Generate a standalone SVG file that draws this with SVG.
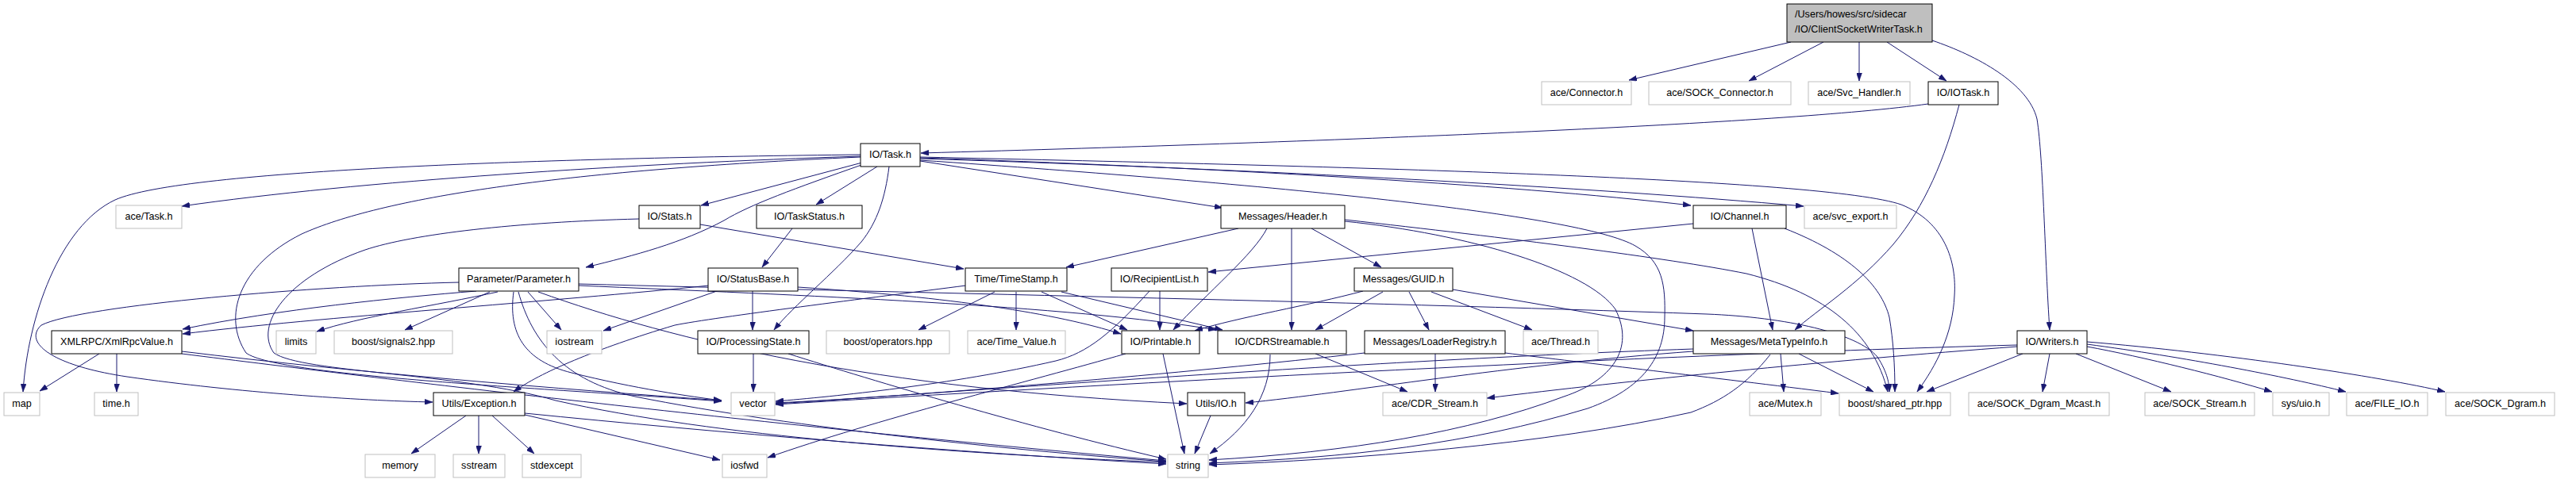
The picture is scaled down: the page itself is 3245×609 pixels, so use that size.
<svg xmlns="http://www.w3.org/2000/svg" width="3245" height="609" viewBox="0 0 3245 609">
<style>
.n rect{fill:#fff;stroke:#000;stroke-width:1}
.x rect{fill:#fff;stroke:#bfbfbf;stroke-width:1}
.r rect{fill:#bfbfbf;stroke:#000;stroke-width:1}
text{font-family:"Liberation Sans",Arial,Helvetica,sans-serif;font-size:12.6px;fill:#000;text-anchor:middle}
.r text{text-anchor:start}
#edges path{fill:none;stroke:#191970;stroke-width:1;marker-end:url(#a)}
</style>
<defs>
<marker id="a" markerUnits="userSpaceOnUse" markerWidth="10" markerHeight="7" refX="10" refY="3.5" orient="auto">
<path d="M0,0 L10,3.5 L0,7 z" fill="#191970" stroke="#191970" stroke-width="0.5"/>
</marker>
</defs>
<rect x="0" y="0" width="3245" height="609" fill="#fff"/>
<g id="edges">
<path d="M2256,53 L2052,101"/>
<path d="M2297,53 L2203,102"/>
<path d="M2342,53 L2342,102"/>
<path d="M2377,53 L2452,102"/>
<path d="M2434,51 C2490,70 2555,105 2566,150 C2574,200 2576,330 2582,416"/>
<path d="M2429,131 C2250,156 1700,178 1160,193"/>
<path d="M2468,132 C2450,200 2425,260 2385,308 C2340,360 2290,390 2261,416"/>
<path d="M1084,197 C800,206 450,228 229,260"/>
<path d="M1084,195 C700,199 230,214 145,252 C75,285 35,400 29,494"/>
<path d="M1086,205 L883,259"/>
<path d="M1105,210 L1028,258"/>
<path d="M1088,207 C1000,238 945,258 912,278 C860,306 800,322 738,337"/>
<path d="M1120,210 C1115,250 1105,280 1085,305 C1050,345 1000,385 975,416"/>
<path d="M1159,203 L1540,262"/>
<path d="M1159,199 C1500,210 1900,232 2130,259"/>
<path d="M1159,200 C1600,214 2000,236 2272,260"/>
<path d="M1159,198 C1700,210 2300,225 2395,258 C2450,280 2465,330 2462,373 C2460,420 2440,460 2415,494"/>
<path d="M1159,202 C1600,232 1990,270 2060,310 C2095,330 2098,360 2097,400 C2097,450 2070,490 2000,515 C1850,560 1700,577 1523,584"/>
<path d="M1084,198 C700,215 480,250 380,295 C300,335 280,400 310,445 C350,475 700,490 909,506"/>
<path d="M882,283 L1214,339"/>
<path d="M805,276 C650,280 520,295 460,315 C360,350 320,410 345,445 C380,470 580,470 700,505 C900,550 1200,572 1469,583"/>
<path d="M998,288 L960,337"/>
<path d="M1560,288 L1343,337"/>
<path d="M1652,288 L1740,337"/>
<path d="M1596,288 C1580,320 1520,370 1478,416"/>
<path d="M1627,288 L1627,416"/>
<path d="M1694,279 C1850,295 2000,340 2035,390 C2060,440 2030,480 1970,500 C1850,545 1700,570 1523,580"/>
<path d="M1694,277 C1900,300 2100,325 2200,345 C2300,370 2360,420 2378,494"/>
<path d="M2133,282 L1522,343"/>
<path d="M2207,288 L2233,416"/>
<path d="M2248,288 C2330,320 2370,360 2380,400 C2385,430 2387,460 2387,494"/>
<path d="M893,360 C700,380 400,400 230,421"/>
<path d="M903,367 L760,417"/>
<path d="M948,367 L948,416"/>
<path d="M1005,362 C1200,375 1330,395 1412,421"/>
<path d="M600,367 C500,375 350,390 230,415"/>
<path d="M627,368 C550,385 450,400 399,418"/>
<path d="M617,368 L510,416"/>
<path d="M665,368 L707,416"/>
<path d="M647,368 C640,420 660,455 720,470 C800,490 870,500 909,505"/>
<path d="M653,368 C670,430 710,480 800,500 C1000,540 1300,570 1469,582"/>
<path d="M678,368 C850,430 1100,490 1495,509"/>
<path d="M578,356 C400,360 100,385 52,410 C30,430 60,460 160,475 C300,495 450,505 545,507"/>
<path d="M729,360 C1000,372 1350,385 1532,416"/>
<path d="M729,358 C1100,368 1700,380 2150,396 C2250,400 2340,420 2365,450 C2378,470 2380,485 2380,494"/>
<path d="M1717,367 C1650,385 1560,400 1505,417"/>
<path d="M1742,368 L1657,416"/>
<path d="M1775,368 L1800,416"/>
<path d="M1803,368 L1930,416"/>
<path d="M1830,365 L2133,417"/>
<path d="M1253,368 L1157,416"/>
<path d="M1280,368 L1280,416"/>
<path d="M1312,368 L1420,416"/>
<path d="M1337,368 L1540,416"/>
<path d="M1217,360 C1100,375 900,400 850,410 C750,440 680,470 647,494"/>
<path d="M1461,367 L1461,416"/>
<path d="M1448,367 C1400,420 1370,445 1330,455 C1200,485 1050,500 977,506"/>
<path d="M949,446 L949,494"/>
<path d="M993,446 C1100,480 1300,540 1469,579"/>
<path d="M1465,446 L1492,572"/>
<path d="M1418,446 C1300,480 1100,530 967,577"/>
<path d="M1657,446 L1773,494"/>
<path d="M1600,447 C1600,500 1570,540 1524,572"/>
<path d="M1808,446 L1808,494"/>
<path d="M1896,445 C2000,458 2150,475 2316,496"/>
<path d="M1719,445 C1500,470 1150,500 977,508"/>
<path d="M2243,446 L2247,494"/>
<path d="M2266,446 L2360,494"/>
<path d="M2230,447 C2200,485 2170,505 2130,520 C1950,560 1700,580 1523,586"/>
<path d="M2133,440 C1700,455 1200,495 977,509"/>
<path d="M2133,443 C1900,460 1700,495 1569,508"/>
<path d="M2582,446 L2573,494"/>
<path d="M2615,446 L2735,494"/>
<path d="M2629,437 C2700,450 2800,475 2862,494"/>
<path d="M2629,434 C2750,450 2880,475 2955,494"/>
<path d="M2629,431 C2800,445 3000,475 3080,494"/>
<path d="M2548,446 L2427,494"/>
<path d="M2541,437 C2300,455 2050,480 1873,502"/>
<path d="M2541,435 C2000,450 1300,490 977,510"/>
<path d="M125,446 L50,493"/>
<path d="M147,446 L147,494"/>
<path d="M229,443 C450,470 700,490 909,505"/>
<path d="M229,446 C500,480 1000,540 1469,581"/>
<path d="M587,524 L518,572"/>
<path d="M603,524 L603,572"/>
<path d="M620,524 L673,572"/>
<path d="M661,523 L907,580"/>
<path d="M661,521 C900,545 1200,570 1469,585"/>
<path d="M1525,524 L1505,572"/>
</g>
<g id="root" class="r"><rect x="2251" y="5" width="183" height="48"/><text x="2261" y="22">/Users/howes/src/sidecar</text><text x="2261" y="41">/IO/ClientSocketWriterTask.h</text></g>
<g id="n_connector" class="x"><rect x="1942" y="103" width="113" height="29"/><text x="1998.5" y="121">ace/Connector.h</text></g>
<g id="n_sockconnector" class="x"><rect x="2077" y="103" width="179" height="29"/><text x="2166.5" y="121">ace/SOCK_Connector.h</text></g>
<g id="n_svchandler" class="x"><rect x="2278" y="103" width="128" height="29"/><text x="2342" y="121">ace/Svc_Handler.h</text></g>
<g id="n_iotask" class="n"><rect x="2429" y="103" width="88" height="29"/><text x="2473" y="121">IO/IOTask.h</text></g>
<g id="n_task" class="n"><rect x="1084" y="181" width="75" height="29"/><text x="1121.5" y="199">IO/Task.h</text></g>
<g id="n_acetask" class="x"><rect x="146" y="259" width="83" height="29"/><text x="187.5" y="277">ace/Task.h</text></g>
<g id="n_stats" class="n"><rect x="805" y="259" width="77" height="29"/><text x="843.5" y="277">IO/Stats.h</text></g>
<g id="n_taskstatus" class="n"><rect x="953" y="259" width="133" height="29"/><text x="1019.5" y="277">IO/TaskStatus.h</text></g>
<g id="n_header" class="n"><rect x="1538" y="259" width="156" height="29"/><text x="1616" y="277">Messages/Header.h</text></g>
<g id="n_channel" class="n"><rect x="2133" y="259" width="117" height="29"/><text x="2191.5" y="277">IO/Channel.h</text></g>
<g id="n_svcexport" class="x"><rect x="2273" y="259" width="116" height="29"/><text x="2331" y="277">ace/svc_export.h</text></g>
<g id="n_parameter" class="n"><rect x="578" y="338" width="151" height="29"/><text x="653.5" y="356">Parameter/Parameter.h</text></g>
<g id="n_statusbase" class="n"><rect x="892" y="338" width="113" height="29"/><text x="948.5" y="356">IO/StatusBase.h</text></g>
<g id="n_timestamp" class="n"><rect x="1216" y="338" width="128" height="29"/><text x="1280" y="356">Time/TimeStamp.h</text></g>
<g id="n_recipientlist" class="n"><rect x="1400" y="338" width="121" height="29"/><text x="1460.5" y="356">IO/RecipientList.h</text></g>
<g id="n_guid" class="n"><rect x="1706" y="338" width="124" height="29"/><text x="1768" y="356">Messages/GUID.h</text></g>
<g id="n_xmlrpc" class="n"><rect x="65" y="417" width="164" height="29"/><text x="147" y="435">XMLRPC/XmlRpcValue.h</text></g>
<g id="n_limits" class="x"><rect x="348" y="417" width="50" height="29"/><text x="373" y="435">limits</text></g>
<g id="n_signals2" class="x"><rect x="421" y="417" width="149" height="29"/><text x="495.5" y="435">boost/signals2.hpp</text></g>
<g id="n_iostream" class="x"><rect x="689" y="417" width="69" height="29"/><text x="723.5" y="435">iostream</text></g>
<g id="n_procstate" class="n"><rect x="879" y="417" width="140" height="29"/><text x="949" y="435">IO/ProcessingState.h</text></g>
<g id="n_operators" class="x"><rect x="1041" y="417" width="155" height="29"/><text x="1118.5" y="435">boost/operators.hpp</text></g>
<g id="n_timevalue" class="x"><rect x="1219" y="417" width="123" height="29"/><text x="1280.5" y="435">ace/Time_Value.h</text></g>
<g id="n_printable" class="n"><rect x="1413" y="417" width="98" height="29"/><text x="1462" y="435">IO/Printable.h</text></g>
<g id="n_cdrstreamable" class="n"><rect x="1534" y="417" width="162" height="29"/><text x="1615" y="435">IO/CDRStreamable.h</text></g>
<g id="n_loaderregistry" class="n"><rect x="1719" y="417" width="177" height="29"/><text x="1807.5" y="435">Messages/LoaderRegistry.h</text></g>
<g id="n_thread" class="x"><rect x="1919" y="417" width="94" height="29"/><text x="1966" y="435">ace/Thread.h</text></g>
<g id="n_metatypeinfo" class="n"><rect x="2133" y="417" width="191" height="29"/><text x="2228.5" y="435">Messages/MetaTypeInfo.h</text></g>
<g id="n_writers" class="n"><rect x="2541" y="417" width="88" height="29"/><text x="2585" y="435">IO/Writers.h</text></g>
<g id="n_map" class="x"><rect x="5" y="495" width="45" height="29"/><text x="27.5" y="513">map</text></g>
<g id="n_time" class="x"><rect x="119" y="495" width="55" height="29"/><text x="146.5" y="513">time.h</text></g>
<g id="n_exception" class="n"><rect x="546" y="495" width="115" height="29"/><text x="603.5" y="513">Utils/Exception.h</text></g>
<g id="n_vector" class="x"><rect x="921" y="495" width="55" height="29"/><text x="948.5" y="513">vector</text></g>
<g id="n_utilsio" class="n"><rect x="1496" y="495" width="72" height="29"/><text x="1532" y="513">Utils/IO.h</text></g>
<g id="n_cdrstream" class="x"><rect x="1742" y="495" width="131" height="29"/><text x="1807.5" y="513">ace/CDR_Stream.h</text></g>
<g id="n_mutex" class="x"><rect x="2204" y="495" width="90" height="29"/><text x="2249" y="513">ace/Mutex.h</text></g>
<g id="n_sharedptr" class="x"><rect x="2317" y="495" width="140" height="29"/><text x="2387" y="513">boost/shared_ptr.hpp</text></g>
<g id="n_dgrammcast" class="x"><rect x="2480" y="495" width="177" height="29"/><text x="2568.5" y="513">ace/SOCK_Dgram_Mcast.h</text></g>
<g id="n_sockstream" class="x"><rect x="2702" y="495" width="138" height="29"/><text x="2771" y="513">ace/SOCK_Stream.h</text></g>
<g id="n_uio" class="x"><rect x="2863" y="495" width="71" height="29"/><text x="2898.5" y="513">sys/uio.h</text></g>
<g id="n_fileio" class="x"><rect x="2956" y="495" width="102" height="29"/><text x="3007" y="513">ace/FILE_IO.h</text></g>
<g id="n_sockdgram" class="x"><rect x="3081" y="495" width="137" height="29"/><text x="3149.5" y="513">ace/SOCK_Dgram.h</text></g>
<g id="n_memory" class="x"><rect x="460" y="573" width="88" height="29"/><text x="504" y="591">memory</text></g>
<g id="n_sstream" class="x"><rect x="571" y="573" width="65" height="29"/><text x="603.5" y="591">sstream</text></g>
<g id="n_stdexcept" class="x"><rect x="658" y="573" width="74" height="29"/><text x="695" y="591">stdexcept</text></g>
<g id="n_iosfwd" class="x"><rect x="910" y="573" width="56" height="29"/><text x="938" y="591">iosfwd</text></g>
<g id="n_string" class="x"><rect x="1471" y="573" width="51" height="29"/><text x="1496.5" y="591">string</text></g>
</svg>
